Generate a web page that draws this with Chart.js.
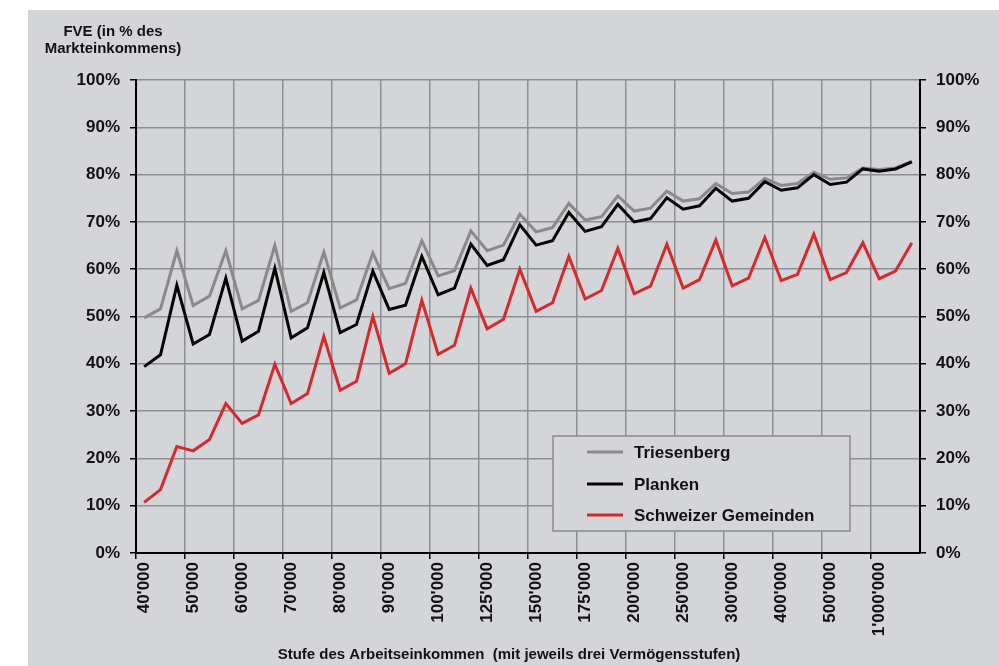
<html>
<head>
  <meta charset="utf-8">
  <title>FVE Chart</title>
  <script src="https://cdn.jsdelivr.net/npm/chart.js"></script>
  <style>
    body { margin: 0; background: #fff; }
    #wrap { position: absolute; left: 28px; top: 10px; width: 971px; height: 656px; background: #d4d5d8; }
  </style>
</head>
<body>
  <div id="wrap"><canvas id="fveChart"></canvas></div>
  <script>
    // Einkommensstufen, jede mit drei Vermögensstufen
    const incomeLevels = ["40'000", "50'000", "60'000", "70'000", "80'000", "90'000", "100'000", "125'000",
      "150'000", "175'000", "200'000", "250'000", "300'000", "400'000", "500'000", "1'000'000"];
    const wealthSteps = ["V1", "V2", "V3"];
    const yTicks = [0, 10, 20, 30, 40, 50, 60, 70, 80, 90, 100];

    const triesenberg = [49.7, 51.6, 63.9, 52.3, 54.3, 63.9, 51.6, 53.4, 65.0, 51.1, 52.9, 63.6, 51.8, 53.5, 63.4, 55.9,
      57.0, 66.0, 58.6, 59.7, 68.1, 63.9, 65.1, 71.6, 67.9, 68.8, 73.9, 70.4, 71.1, 75.5, 72.3, 72.9,
      76.5, 74.4, 74.9, 78.1, 76.0, 76.3, 79.2, 77.7, 78.1, 80.5, 79.0, 79.3, 81.4, 81.1, 81.4, 82.8];
    const planken = [39.4, 41.9, 56.6, 44.2, 46.2, 58.1, 44.8, 46.9, 60.2, 45.5, 47.6, 59.3, 46.6, 48.3, 59.6, 51.5,
      52.4, 62.7, 54.6, 56.0, 65.3, 60.8, 62.0, 69.4, 65.1, 66.0, 72.0, 68.0, 69.0, 73.7, 70.0, 70.7,
      75.1, 72.7, 73.4, 77.1, 74.4, 75.0, 78.5, 76.7, 77.2, 80.0, 77.9, 78.4, 81.2, 80.7, 81.2, 82.7];
    const schweiz = [10.7, 13.4, 22.5, 21.6, 24.0, 31.6, 27.4, 29.2, 39.9, 31.6, 33.7, 45.8, 34.4, 36.3, 50.0, 38.0,
      40.0, 53.4, 42.0, 43.9, 56.0, 47.4, 49.4, 60.0, 51.1, 52.9, 62.7, 53.7, 55.5, 64.4, 54.8, 56.4,
      65.3, 56.0, 57.8, 66.2, 56.5, 58.1, 66.7, 57.6, 58.9, 67.4, 57.8, 59.3, 65.6, 58.0, 59.6, 65.6];

    const categories = incomeLevels.flatMap(inc => wealthSteps.map(w => inc + " " + w));

    const FONT = "'Liberation Sans', Arial, sans-serif";
    const BG = "#d4d5d8";
    const GRID = "#8e8f92";

    const overlay = {
      id: "overlay",
      afterDraw(chart) {
        const ctx = chart.ctx;
        const a = chart.chartArea;
        ctx.save();
        // Achsentitel
        ctx.fillStyle = "#111";
        ctx.font = "bold 15px " + FONT;
        ctx.textAlign = "center";
        ctx.textBaseline = "middle";
        ctx.fillText("FVE (in % des", 85, 22);
        ctx.fillText("Markteinkommens)", 85, 39);
        ctx.fillText("Stufe des Arbeitseinkommen  (mit jeweils drei Vermögensstufen)", 481, 645);

        // Legende
        const bx = a.left + 417, by = a.top + 356, bw = 297, bh = 95;
        ctx.fillStyle = BG;
        ctx.fillRect(bx, by, bw, bh);
        ctx.strokeStyle = "#8a8b8e";
        ctx.lineWidth = 1.5;
        ctx.strokeRect(bx, by, bw, bh);
        const rows = [16, 48, 79];
        chart.data.datasets.forEach((ds, i) => {
          const y = by + rows[i];
          ctx.strokeStyle = ds.borderColor;
          ctx.lineWidth = 3;
          ctx.beginPath();
          ctx.moveTo(bx + 34, y);
          ctx.lineTo(bx + 70, y);
          ctx.stroke();
          ctx.fillStyle = "#111";
          ctx.font = "bold 17px " + FONT;
          ctx.textAlign = "left";
          ctx.fillText(ds.label, bx + 81, y + 1);
        });
        ctx.restore();
      }
    };

    const tickFont = { family: FONT, size: 17, weight: "bold" };

    new Chart(document.getElementById("fveChart"), {
      type: "line",
      data: {
        labels: categories,
        datasets: [
          { label: "Triesenberg", data: triesenberg, borderColor: "#8a8a8a", order: 1 },
          { label: "Planken", data: planken, borderColor: "#050505", order: 0 },
          { label: "Schweizer Gemeinden", data: schweiz, borderColor: "#d42a2c", order: 2 }
        ]
      },
      options: {
        responsive: true,
        maintainAspectRatio: false,
        animation: false,
        layout: { padding: { top: 70, left: 0, right: 0, bottom: 0 } },
        elements: {
          line: { borderWidth: 3, tension: 0, fill: false },
          point: { radius: 0 }
        },
        plugins: { legend: { display: false }, tooltip: { enabled: false } },
        scales: {
          x: {
            offset: true,
            grid: {
              offset: true,
              lineWidth: 1.5,
              tickLength: 6,
              color: c => (c.index % 3 === 0 ? GRID : "transparent"),
              tickColor: c => (c.index % 3 === 0 ? "#000" : "transparent")
            },
            border: { color: "#000", width: 2 },
            ticks: {
              autoSkip: false,
              minRotation: 90,
              maxRotation: 90,
              padding: 3,
              color: "#111",
              font: tickFont,
              callback: (v, i) => (i % 3 === 0 ? incomeLevels[i / 3] : "")
            },
            afterFit: s => { s.height = 113; }
          },
          y: {
            position: "left",
            min: 0,
            max: 100,
            afterBuildTicks: s => { s.ticks = yTicks.map(v => ({ value: v })); },
            grid: {
              lineWidth: 1.5,
              tickLength: 6,
              color: c => (c.tick && c.tick.value === 0 ? "transparent" : GRID),
              tickColor: "#000"
            },
            border: { color: "#000", width: 2 },
            ticks: { padding: 10, color: "#111", font: tickFont, callback: v => v + "%" },
            afterFit: s => { s.width = 108; }
          },
          y2: {
            position: "right",
            min: 0,
            max: 100,
            afterBuildTicks: s => { s.ticks = yTicks.map(v => ({ value: v })); },
            grid: { drawOnChartArea: false, lineWidth: 1.5, tickLength: 6, tickColor: "#000" },
            border: { color: "#000", width: 2 },
            ticks: { padding: 10, color: "#111", font: tickFont, callback: v => v + "%" },
            afterFit: s => { s.width = 79; }
          }
        }
      },
      plugins: [overlay]
    });
  </script>
</body>
</html>
